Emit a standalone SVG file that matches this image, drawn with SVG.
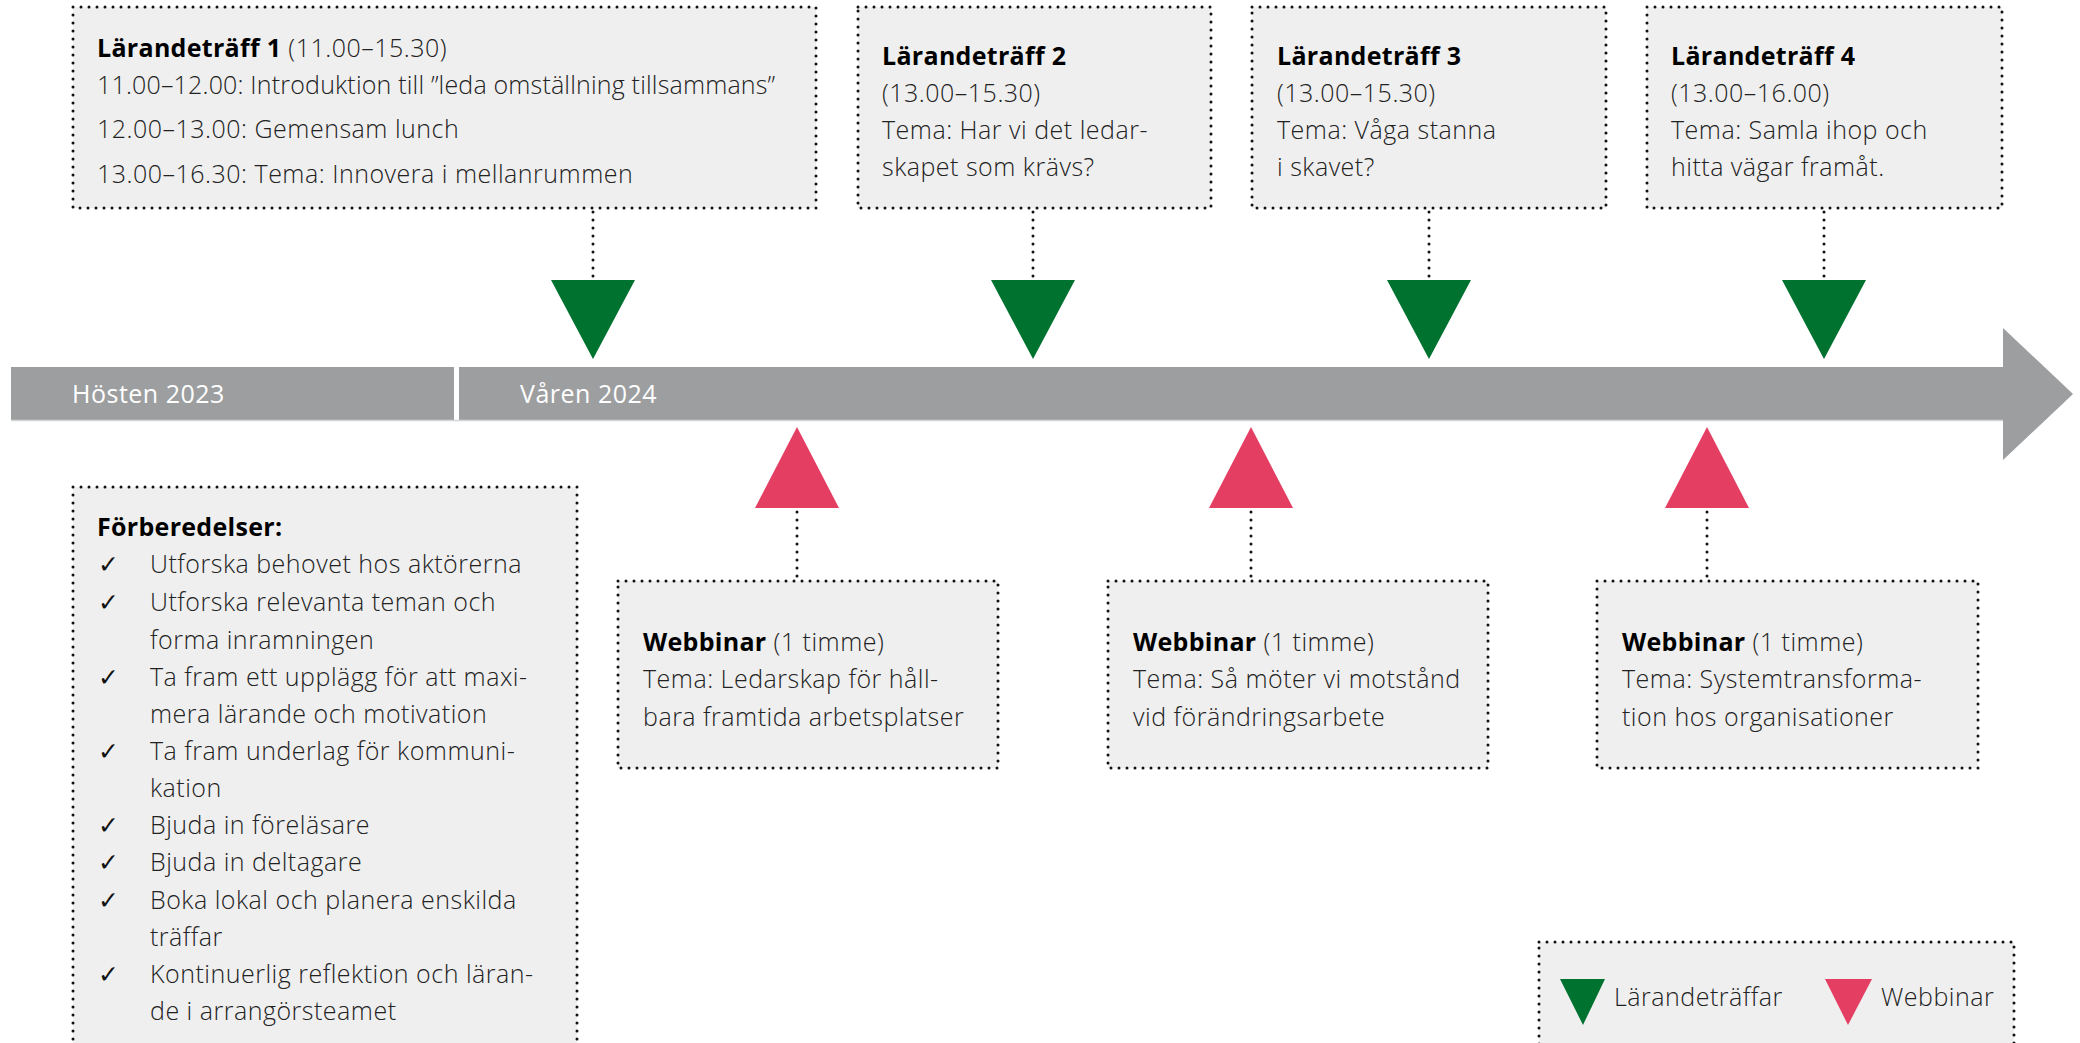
<svg xmlns="http://www.w3.org/2000/svg" width="2080" height="1043" viewBox="0 0 2080 1043">
<style>
.box{fill:#efefef;stroke:#111;stroke-width:3;stroke-dasharray:0 8;stroke-linecap:round}
.dot{fill:none;stroke:#111;stroke-width:3;stroke-dasharray:0 8;stroke-linecap:round}
.t{font-family:"Open Sans","Liberation Sans",sans-serif;font-weight:300;font-size:25px;letter-spacing:0.5px;fill:#222}
.b{font-weight:700;fill:#000;letter-spacing:0.3px}
.ck{font-family:"DejaVu Sans",sans-serif;font-size:25px;fill:#111}
.bar{fill:#9d9ea0}
.bt{font-family:"Open Sans","Liberation Sans",sans-serif;font-weight:500;font-size:25px;letter-spacing:0.5px;fill:#fff}
.g{fill:#00722f}
.p{fill:#e43f63}
</style>
<rect width="2080" height="1043" fill="#fff"/>

<g id="timeline">
<rect class="bar" x="11" y="367" width="443" height="53"/>
<polygon class="bar" points="459,367 2003,367 2003,328 2073,394 2003,460 2003,420 459,420"/>
<line x1="11" y1="420.5" x2="2003" y2="420.5" stroke="#d4d5d6" stroke-width="1.5"/>
<text class="bt" x="72" y="403">Hösten 2023</text>
<text class="bt" x="520" y="403">Våren 2024</text>
</g>

<g id="connectors">
<line class="dot" x1="593" y1="212" x2="593" y2="280"/>
<line class="dot" x1="1033" y1="212" x2="1033" y2="280"/>
<line class="dot" x1="1429" y1="212" x2="1429" y2="280"/>
<line class="dot" x1="1824" y1="212" x2="1824" y2="280"/>
<line class="dot" x1="797" y1="512" x2="797" y2="578"/>
<line class="dot" x1="1251" y1="512" x2="1251" y2="578"/>
<line class="dot" x1="1707" y1="512" x2="1707" y2="578"/>
</g>

<g id="markers">
<polygon class="g" points="551,280 635,280 593,359"/>
<polygon class="g" points="991,280 1075,280 1033,359"/>
<polygon class="g" points="1387,280 1471,280 1429,359"/>
<polygon class="g" points="1782,280 1866,280 1824,359"/>
<polygon class="p" points="797,427 839,508 755,508"/>
<polygon class="p" points="1251,427 1293,508 1209,508"/>
<polygon class="p" points="1707,427 1749,508 1665,508"/>
</g>

<g id="traff1">
<rect class="box" x="73" y="7" width="743" height="201"/>
<text class="t" x="97" y="57"><tspan class="b">Lärandeträff 1</tspan> (11.00–15.30)</text>
<text class="t" x="97" y="94" style="letter-spacing:0.18px">11.00–12.00: Introduktion till ”leda omställning tillsammans”</text>
<text class="t" x="97" y="138">12.00–13.00: Gemensam lunch</text>
<text class="t" x="97" y="183">13.00–16.30: Tema: Innovera i mellanrummen</text>
</g>

<g id="traff2">
<rect class="box" x="858" y="7" width="353" height="201"/>
<text class="t" x="882" y="65"><tspan class="b">Lärandeträff 2</tspan></text>
<text class="t" x="882" y="102">(13.00–15.30)</text>
<text class="t" x="882" y="139">Tema: Har vi det ledar-</text>
<text class="t" x="882" y="176">skapet som krävs?</text>
</g>

<g id="traff3">
<rect class="box" x="1252" y="7" width="354" height="201"/>
<text class="t" x="1277" y="65"><tspan class="b">Lärandeträff 3</tspan></text>
<text class="t" x="1277" y="102">(13.00–15.30)</text>
<text class="t" x="1277" y="139">Tema: Våga stanna</text>
<text class="t" x="1277" y="176">i skavet?</text>
</g>

<g id="traff4">
<rect class="box" x="1647" y="7" width="355" height="201"/>
<text class="t" x="1671" y="65"><tspan class="b">Lärandeträff 4</tspan></text>
<text class="t" x="1671" y="102">(13.00–16.00)</text>
<text class="t" x="1671" y="139">Tema: Samla ihop och</text>
<text class="t" x="1671" y="176">hitta vägar framåt.</text>
</g>

<g id="webbinar1">
<rect class="box" x="618" y="581" width="380" height="187"/>
<text class="t" x="643" y="651"><tspan class="b">Webbinar</tspan> (1 timme)</text>
<text class="t" x="643" y="688">Tema: Ledarskap för håll-</text>
<text class="t" x="643" y="726">bara framtida arbetsplatser</text>
</g>

<g id="webbinar2">
<rect class="box" x="1108" y="581" width="380" height="187"/>
<text class="t" x="1133" y="651"><tspan class="b">Webbinar</tspan> (1 timme)</text>
<text class="t" x="1133" y="688">Tema: Så möter vi motstånd</text>
<text class="t" x="1133" y="726">vid förändringsarbete</text>
</g>

<g id="webbinar3">
<rect class="box" x="1597" y="581" width="381" height="187"/>
<text class="t" x="1622" y="651"><tspan class="b">Webbinar</tspan> (1 timme)</text>
<text class="t" x="1622" y="688">Tema: Systemtransforma-</text>
<text class="t" x="1622" y="726">tion hos organisationer</text>
</g>

<g id="forberedelser">
<rect class="box" x="73" y="487" width="504" height="580"/>
<text class="t" x="97" y="536"><tspan class="b">Förberedelser:</tspan></text>
<g class="ck">
<text x="98" y="573">✓</text>
<text x="98" y="611">✓</text>
<text x="98" y="686">✓</text>
<text x="98" y="760">✓</text>
<text x="98" y="834">✓</text>
<text x="98" y="871">✓</text>
<text x="98" y="909">✓</text>
<text x="98" y="983">✓</text>
</g>
<text class="t" x="150" y="573">Utforska behovet hos aktörerna</text>
<text class="t" x="150" y="611">Utforska relevanta teman och</text>
<text class="t" x="150" y="649">forma inramningen</text>
<text class="t" x="150" y="686">Ta fram ett upplägg för att maxi-</text>
<text class="t" x="150" y="723">mera lärande och motivation</text>
<text class="t" x="150" y="760">Ta fram underlag för kommuni-</text>
<text class="t" x="150" y="797">kation</text>
<text class="t" x="150" y="834">Bjuda in föreläsare</text>
<text class="t" x="150" y="871">Bjuda in deltagare</text>
<text class="t" x="150" y="909">Boka lokal och planera enskilda</text>
<text class="t" x="150" y="946">träffar</text>
<text class="t" x="150" y="983">Kontinuerlig reflektion och läran-</text>
<text class="t" x="150" y="1020">de i arrangörsteamet</text>
</g>

<g id="legend">
<rect class="box" x="1539" y="942" width="475" height="120"/>
<polygon class="g" points="1560,979 1605,979 1583,1025"/>
<text class="t" x="1614" y="1006">Lärandeträffar</text>
<polygon class="p" points="1825,979 1872,979 1848,1025"/>
<text class="t" x="1881" y="1006">Webbinar</text>
</g>
</svg>
